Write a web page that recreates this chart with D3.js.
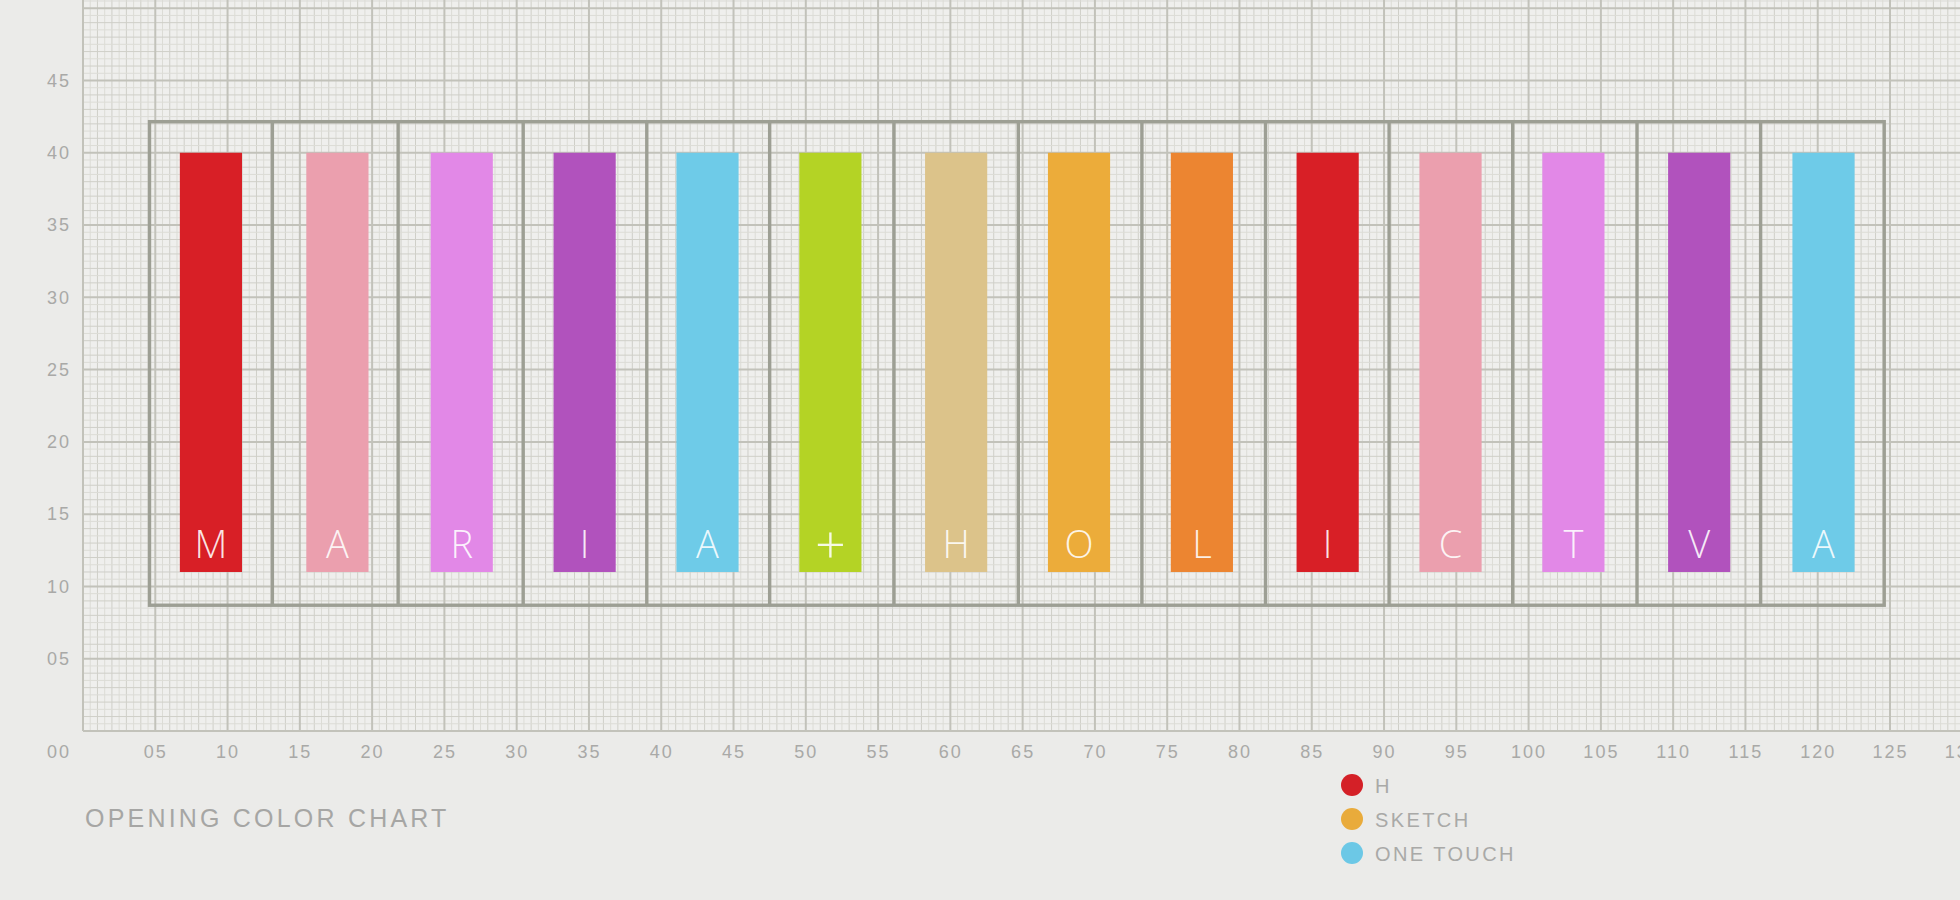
<!DOCTYPE html>
<html>
<head>
<meta charset="utf-8">
<script src="https://cdn.jsdelivr.net/npm/d3@7"></script>
<style>
  body { margin: 0; background: #ebebe9; }
  text { font-family: "Liberation Sans", Arial, sans-serif; }
</style>
</head>
<body>
<script>
// bar letters and colours, left to right
const letters = ["M", "A", "R", "I", "A", "+", "H", "O", "L", "I", "C", "T", "V", "A"];
const barColors = ["#d81f26", "#eb9fae", "#e288e7", "#b152bd", "#6ecbe8", "#b4d325", "#dcc38a",
  "#ecac3a", "#ec8531", "#d81f26", "#eb9fae", "#e288e7", "#b152bd", "#6ecbe8"];
// left edge of each bar (x units) and the bar span on y
const barStart = [6.7, 15.45, 24.05, 32.55, 41.05, 49.55, 58.25, 66.75, 75.25, 83.95, 92.45, 100.95, 109.65, 118.25];
const barWidth = 4.3;
const barLow = 11, barHigh = 40;
// frame around the bars: cell borders on x, frame top/bottom on y
const frameEdges = [4.6, 13.1, 21.8, 30.45, 39.0, 47.5, 56.1, 64.7, 73.25, 81.8, 90.35, 98.9, 107.5, 116.05, 124.6];
const frameLow = 8.7, frameHigh = 42.15;
// tick labels
const xTicks = [5, 10, 15, 20, 25, 30, 35, 40, 45, 50, 55, 60, 65, 70, 75, 80, 85, 90, 95, 100, 105, 110, 115, 120, 125, 130];
const yTicks = [5, 10, 15, 20, 25, 30, 35, 40, 45];
// legend
const legendNames = ["H", "SKETCH", "ONE TOUCH"];
const legendColors = ["#d42027", "#e9ab3b", "#6cc8e6"];

const W = 1960, H = 900;
const unit = 14.456;
const origin = { x: 83, y: 731 };

const svg = d3.select("body").append("svg")
    .attr("width", W)
    .attr("height", H);

svg.append("rect").attr("width", W).attr("height", H).attr("fill", "#ebebe9");

const x = d3.scaleLinear().domain([0, 130]).range([origin.x, origin.x + 130 * unit]);
const y = d3.scaleLinear().domain([0, 50]).range([origin.y, origin.y - 50 * unit]);
const yTop = y.invert(0);
const xRight = x.invert(W);

// graph paper
const grid = svg.append("g");
grid.append("rect")
    .attr("x", x(0)).attr("y", 0)
    .attr("width", W - x(0)).attr("height", y(0))
    .attr("fill", "#efefed");

const minorX = d3.range(0, xRight, 0.5).filter(d => d % 5 !== 0);
const minorY = d3.range(0, yTop, 0.5).filter(d => d % 5 !== 0);
const majorX = d3.range(0, xRight, 5);
const majorY = d3.range(0, yTop, 5);

grid.selectAll(".minor-x").data(minorX).enter().append("line")
    .attr("x1", d => x(d)).attr("x2", d => x(d))
    .attr("y1", 0).attr("y2", y(0))
    .attr("stroke", d => d % 1 === 0 ? "#cfcfc8" : "#dcdcd6")
    .attr("stroke-width", 1);
grid.selectAll(".minor-y").data(minorY).enter().append("line")
    .attr("y1", d => y(d)).attr("y2", d => y(d))
    .attr("x1", x(0)).attr("x2", W)
    .attr("stroke", d => d % 1 === 0 ? "#cfcfc8" : "#dcdcd6")
    .attr("stroke-width", 1);
grid.selectAll(".major-x").data(majorX).enter().append("line")
    .attr("x1", d => x(d)).attr("x2", d => x(d))
    .attr("y1", 0).attr("y2", y(0))
    .attr("stroke", "#c2c2ba")
    .attr("stroke-width", 2);
grid.selectAll(".major-y").data(majorY).enter().append("line")
    .attr("y1", d => y(d)).attr("y2", d => y(d))
    .attr("x1", x(0)).attr("x2", W)
    .attr("stroke", "#c2c2ba")
    .attr("stroke-width", 2);

// axes (labels only, the paper gives the lines)
const axisX = svg.append("g")
    .attr("transform", `translate(0, ${y(0)})`)
    .call(d3.axisBottom(x).tickValues(xTicks).tickSize(0).tickPadding(14).tickFormat(d3.format("02d")));
const axisY = svg.append("g")
    .attr("transform", `translate(${x(0)}, 0)`)
    .call(d3.axisLeft(y).tickValues(yTicks).tickSize(0).tickPadding(12).tickFormat(d3.format("02d")));
[axisX, axisY].forEach(a => {
  a.select(".domain").remove();
  a.selectAll("text")
      .attr("fill", "#a9a9a7")
      .style("font-size", "18px")
      .style("letter-spacing", "2px");
});

// the "00" at the corner
svg.append("text")
    .attr("x", x(0) - 12).attr("y", y(0) + 27)
    .attr("text-anchor", "end")
    .attr("fill", "#a9a9a7")
    .style("font-size", "18px")
    .style("letter-spacing", "2px")
    .text("00");

// frame
const frame = svg.append("g")
    .attr("fill", "none")
    .attr("stroke", "#9d9f94")
    .attr("stroke-width", 3.4);
frame.append("rect")
    .attr("x", x(frameEdges[0])).attr("y", y(frameHigh))
    .attr("width", x(frameEdges[frameEdges.length - 1]) - x(frameEdges[0]))
    .attr("height", y(frameLow) - y(frameHigh));
frame.selectAll(".divider").data(frameEdges.slice(1, -1)).enter().append("line")
    .attr("x1", d => x(d)).attr("x2", d => x(d))
    .attr("y1", y(frameHigh)).attr("y2", y(frameLow));

// bars
const bars = svg.append("g").selectAll("g").data(letters).enter().append("g");
bars.append("rect")
    .attr("x", (d, i) => x(barStart[i]))
    .attr("y", y(barHigh))
    .attr("width", x(barWidth) - x(0))
    .attr("height", y(barLow) - y(barHigh))
    .attr("fill", (d, i) => barColors[i]);
bars.append("text")
    .attr("x", (d, i) => x(barStart[i] + barWidth / 2))
    .attr("y", d => y(barLow) - (d === "+" ? 8 : 14))
    .attr("text-anchor", "middle")
    .attr("fill", "#ffffff")
    .attr("fill-opacity", 0.88)
    .style("font-size", d => d === "+" ? "54px" : "38px")
    .style("font-family", "'Open Sans', 'Liberation Sans', sans-serif")
    .style("font-weight", 300)
    .text(d => d);

// title
svg.append("text")
    .attr("x", 85).attr("y", 827)
    .attr("fill", "#a6a6a4")
    .style("font-size", "25px")
    .style("letter-spacing", "3.2px")
    .text("OPENING COLOR CHART");

// legend
const legend = svg.append("g").selectAll("g").data(legendNames).enter().append("g")
    .attr("transform", (d, i) => `translate(1352, ${785 + i * 34})`);
legend.append("circle")
    .attr("r", 11)
    .attr("fill", (d, i) => legendColors[i]);
legend.append("text")
    .attr("x", 23).attr("y", 8)
    .attr("fill", "#a9a9a7")
    .style("font-size", "20px")
    .style("letter-spacing", "2.4px")
    .text(d => d);
</script>
</body>
</html>
